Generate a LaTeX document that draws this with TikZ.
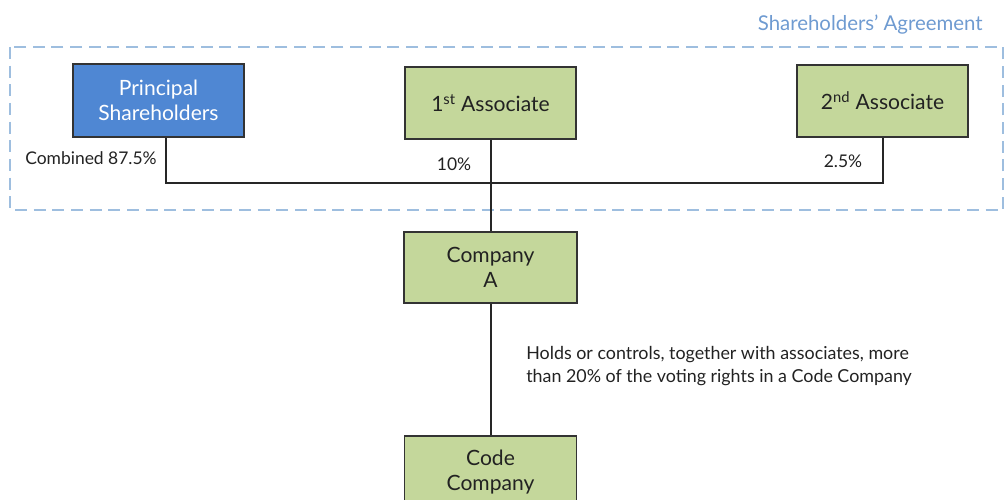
\documentclass[tikz,border=0pt]{standalone}
\usepackage{fontspec}
\setmainfont{Lato}
\definecolor{bluefill}{HTML}{4F87D3}
\definecolor{greenfill}{HTML}{C4D79B}
\definecolor{boxline}{HTML}{333333}
\definecolor{dashblue}{HTML}{9EBEDF}
\definecolor{titleblue}{HTML}{6F9BD1}
\definecolor{txt}{HTML}{222222}
\begin{document}
\begin{tikzpicture}[x=0.75pt,y=-0.75pt,
  boxbase/.style={draw=boxline, line width=1.1pt, align=center, inner sep=0pt,
    font=\fontsize{15.8}{18.75}\selectfont},
  greenbox/.style={boxbase, fill=greenfill, text=txt},
  bluebox/.style={boxbase, fill=bluefill, text=white},
  conn/.style={draw=black!85, line width=1.5pt},
  pct/.style={font=\fontsize{13.1}{15}\selectfont, text=txt, inner sep=0pt},
  agree/.style={draw=dashblue, line width=1pt, dash pattern=on 9pt off 5pt}]
\useasboundingbox (0,0) rectangle (1005,499);
\draw[agree] (10,47) rectangle (1003,210);
\node[anchor=east, text=titleblue, inner sep=0pt, font=\fontsize{15.3}{18}\selectfont] (title) at (983,25) {Shareholders’ Agreement};

\node[bluebox, minimum width=128.25pt, minimum height=54.75pt] (P) at (158.5,100.5) {Principal\\Shareholders};
\node[greenbox, minimum width=128.25pt, minimum height=54pt] (A1) at (490.5,103) {1\textsuperscript{st} Associate};
\node[greenbox, minimum width=128.25pt, minimum height=54pt] (A2) at (882.5,101) {2\textsuperscript{nd} Associate};
\node[greenbox, minimum width=129.75pt, minimum height=53.25pt] (CA) at (490.5,267.5) {Company\\A};
\node[greenbox, minimum width=129pt, minimum height=54pt] (CC) at (490.5,472) {Code\\Company};

\coordinate (j) at (490.5,183);
\draw[conn] ([xshift=5.6pt]P.south) |- (j);
\draw[conn] (A2.south) |- (j);
\draw[conn] (A1.south) -- (CA.north);
\draw[conn] (CA.south) -- (CC.north);

\node[pct, anchor=east] (l1) at (157,158) {Combined 87.5\%};
\node[pct] (l2) at (454,164) {10\%};
\node[pct] (l3) at (843,161) {2.5\%};
\node[pct, anchor=west, align=left, font=\fontsize{13.4}{17.25}\selectfont] (note) at (526,366)
  {Holds or controls, together with associates, more\\than 20\% of the voting rights in a Code Company};
\end{tikzpicture}
\end{document}
